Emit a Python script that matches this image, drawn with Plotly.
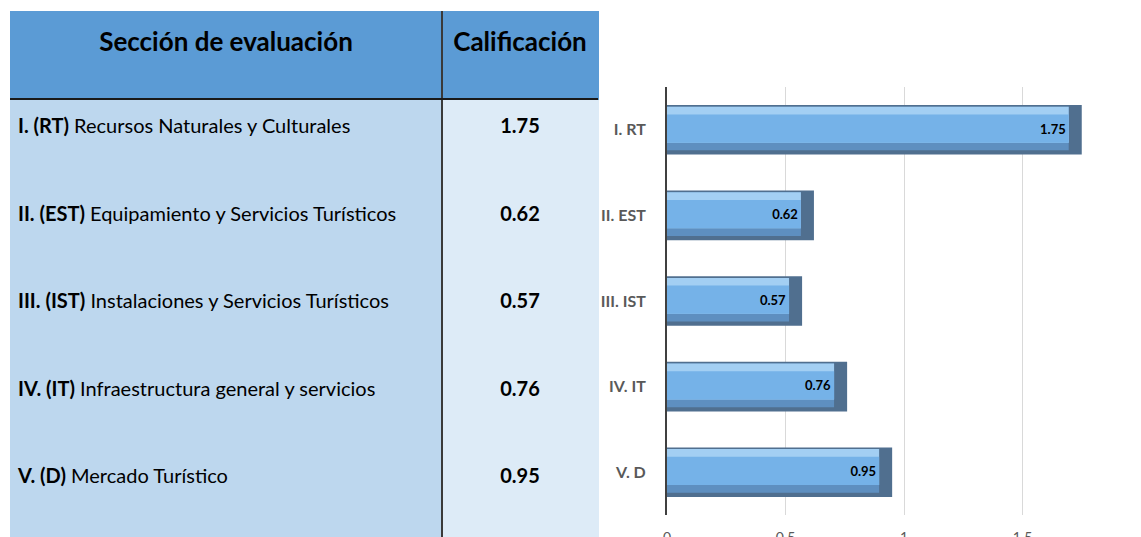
import plotly.graph_objects as go

# ---- data ----
sections = [
    "<b>I. (RT)</b> Recursos Naturales y Culturales",
    "<b>II. (EST)</b> Equipamiento y Servicios Turísticos",
    "<b>III. (IST)</b> Instalaciones y Servicios Turísticos",
    "<b>IV. (IT)</b> Infraestructura general y servicios",
    "<b>V. (D)</b> Mercado Turístico",
]
scores = [1.75, 0.62, 0.57, 0.76, 0.95]
short_labels = ["I. RT", "II. EST", "III. IST", "IV. IT", "V. D"]
header_labels = ["<b>Sección de evaluación</b>", "<b>Calificación</b>"]
x_tickvals = [0, 0.5, 1, 1.5, 2]
x_ticktext = ["0", "0.5", "1", "1.5", "2"]

W, H = 1141, 537
FONT = "Lato"
n = len(scores)
col_fills = [["#BDD7EE"] * n, ["#DDEBF7"] * n]

fig = go.Figure()

# ---- table: fills ----
fig.add_trace(go.Table(
    domain=dict(x=[10 / W, 598 / W], y=[0, 1 - 11 / H]),
    columnwidth=[432, 156],
    header=dict(values=["", ""], fill_color="#5B9BD5",
                line=dict(color="#5B9BD5", width=1), height=88),
    cells=dict(values=[[""] * n, [""] * n], fill_color=col_fills,
               line=dict(color=col_fills, width=1), height=87.5),
))
# ---- table: texts ----
fig.add_trace(go.Table(
    domain=dict(x=[10 / W, 598 / W], y=[0, 1 - 17 / H]),
    columnwidth=[432, 156],
    header=dict(
        values=header_labels,
        fill_color="rgba(0,0,0,0)",
        line=dict(color="rgba(0,0,0,0)", width=0),
        align="center",
        height=88,
        font=dict(family=FONT, size=26, color="black"),
    ),
    cells=dict(
        values=[sections, [f"<b>{v:.2f}</b>" for v in scores]],
        fill_color="rgba(0,0,0,0)",
        line=dict(color="rgba(0,0,0,0)", width=0),
        align=["left", "center"],
        height=87.5,
        font=dict(family=FONT, size=20, color="black"),
    ),
))

# ---- bars (layered for a bevelled look) ----
inner = [v - 0.055 for v in scores]
fig.add_trace(go.Bar(y=short_labels, x=scores, orientation="h", offset=-0.29, width=0.58,
                     marker=dict(color="#506F8F", line=dict(width=0)), hoverinfo="skip",
                     textposition="none", xaxis="x", yaxis="y"))
fig.add_trace(go.Bar(y=short_labels, x=inner, orientation="h", offset=-0.27, width=0.51,
                     marker=dict(color="#5E8FC0", line=dict(width=0)), hoverinfo="skip",
                     textposition="none", xaxis="x", yaxis="y"))
fig.add_trace(go.Bar(y=short_labels, x=inner, orientation="h", offset=-0.27, width=0.42,
                     marker=dict(color="#A3CFF3", line=dict(width=0)), hoverinfo="skip",
                     textposition="none", xaxis="x", yaxis="y"))
fig.add_trace(go.Bar(y=short_labels, x=inner, orientation="h", offset=-0.18, width=0.33,
                     marker=dict(color="#75B2E8", line=dict(width=0)),
                     text=[f"{v:.2f}" for v in scores], textposition="inside",
                     insidetextanchor="end", constraintext="none",
                     insidetextfont=dict(family=FONT, size=13, color="black", weight="bold"),
                     xaxis="x", yaxis="y"))

fig.update_layout(
    width=W, height=H,
    margin=dict(l=0, r=0, t=0, b=0),
    paper_bgcolor="white", plot_bgcolor="white",
    barmode="overlay",
    showlegend=False,
    font=dict(family=FONT),
    xaxis=dict(domain=[667 / W, 1.0], range=[0, 2], tickvals=x_tickvals, ticktext=x_ticktext,
               showgrid=True, gridcolor="#D9D9D9", gridwidth=1, zeroline=False, showline=False,
               tickfont=dict(family=FONT, size=14, color="#595959"), ticklabelstandoff=12,
               automargin=False, fixedrange=True),
    yaxis=dict(domain=[1 - 515 / H, 1 - 87 / H], autorange="reversed", showgrid=False,
               showline=True, linecolor="#404040", linewidth=2, zeroline=False,
               tickfont=dict(family=FONT, size=16, color="#595959", weight="bold"),
               ticklabelstandoff=16, automargin=False, fixedrange=True),
    shapes=[
        dict(type="line", xref="paper", yref="paper", x0=442 / W, x1=442 / W, y0=0, y1=1 - 11 / H,
             line=dict(color="#3A3A3A", width=2)),
        dict(type="line", xref="paper", yref="paper", x0=10 / W, x1=598 / W, y0=1 - 99 / H, y1=1 - 99 / H,
             line=dict(color="#1A1A1A", width=2)),
    ],
)

fig.write_html("out.html", config={"displayModeBar": False},
               post_script="document.body.style.margin='0';")
